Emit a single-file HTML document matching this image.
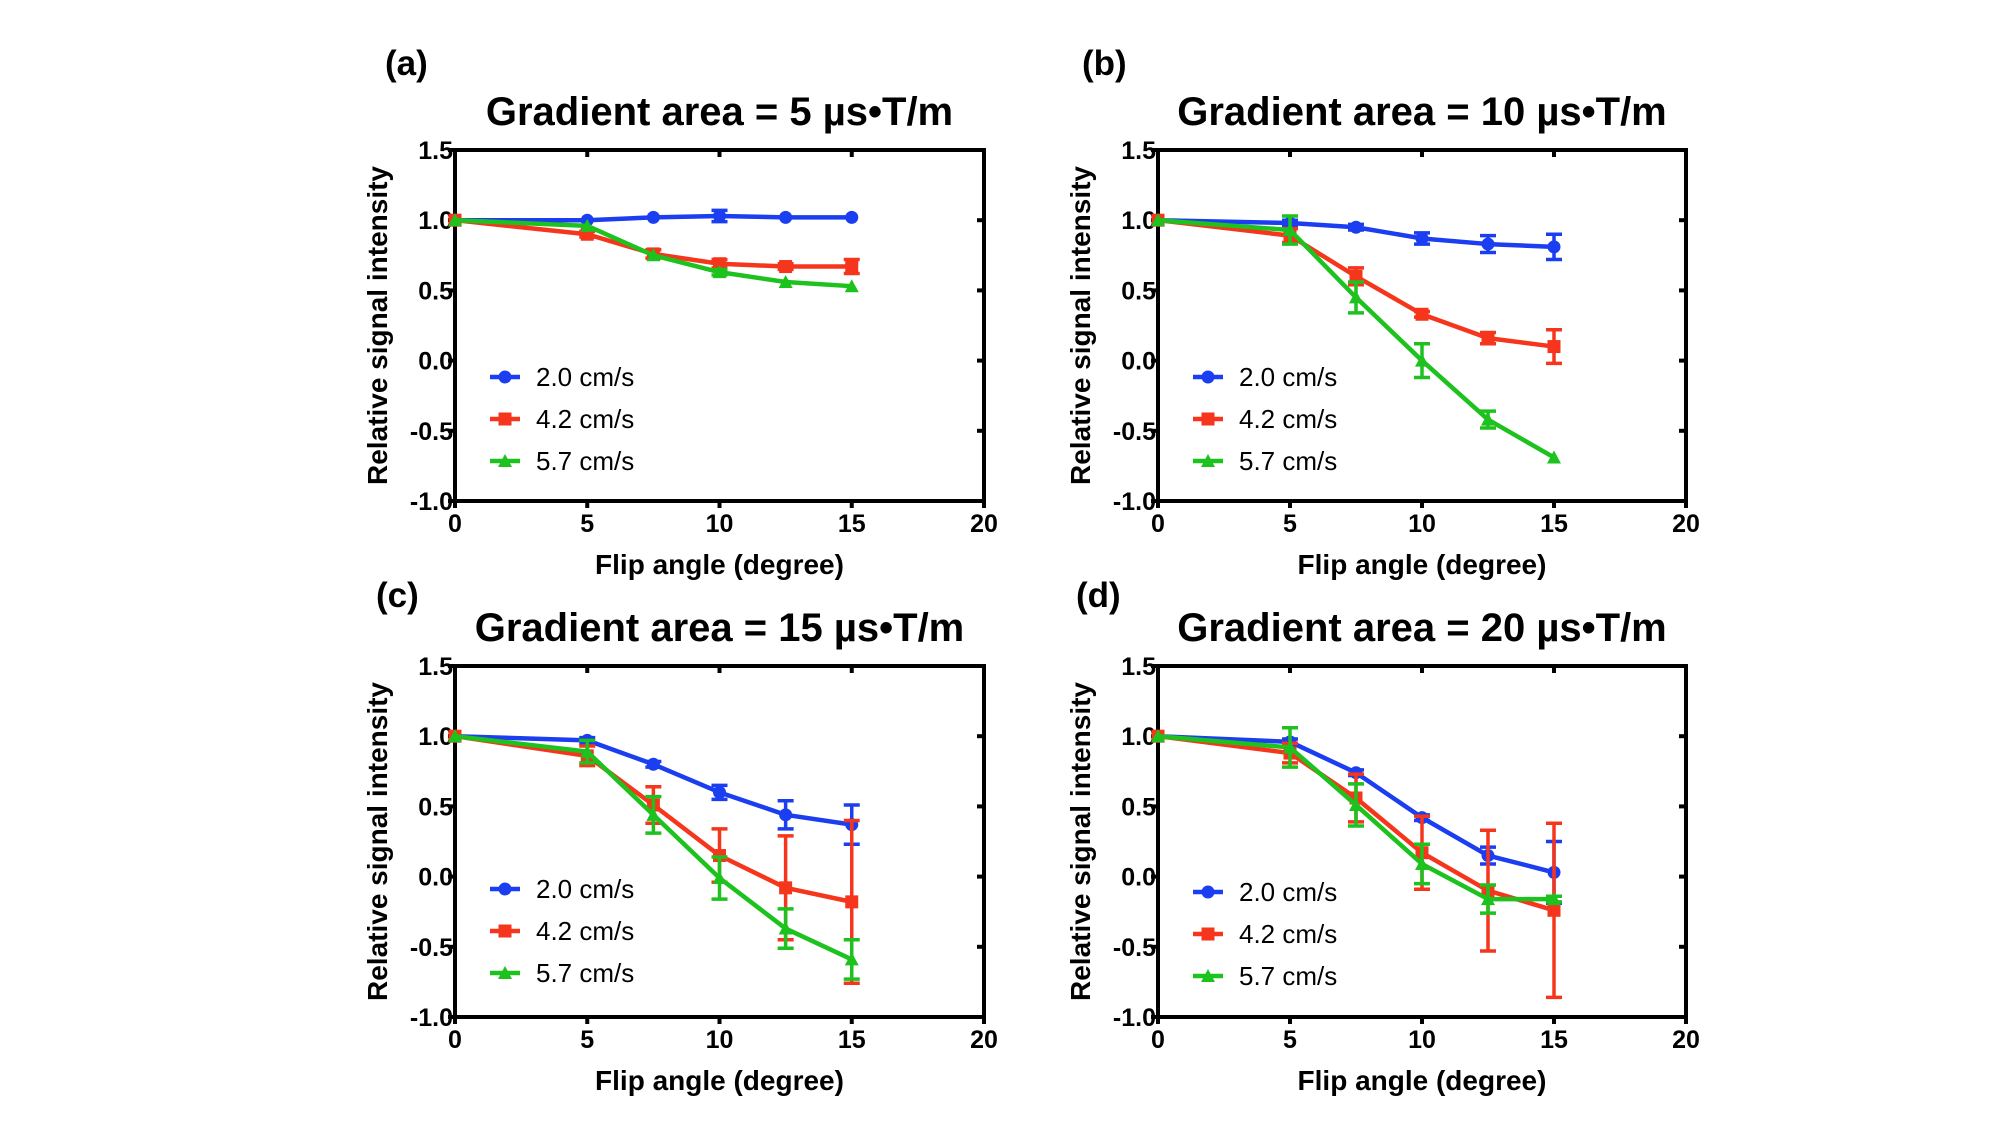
<!DOCTYPE html>
<html><head><meta charset="utf-8"><style>
html,body{margin:0;padding:0;background:#fff}
svg{display:block;font-family:"Liberation Sans",Arial,sans-serif}
</style></head><body>
<svg id="fig" width="2000" height="1125" viewBox="0 0 2000 1125" xmlns="http://www.w3.org/2000/svg"></svg>
<script>
const xVals=[0,5,7.5,10,12.5,15];
const xTicks=[0,5,10,15,20];
const yTicks=[-1.0,-0.5,0.0,0.5,1.0,1.5];
const yTickLabels=["-1.0","-0.5","0.0","0.5","1.0","1.5"];
const seriesNames=["2.0 cm/s","4.2 cm/s","5.7 cm/s"];
const panelLetters=["(a)","(b)","(c)","(d)"];
const panelTitles=["Gradient area = 5 µs•T/m","Gradient area = 10 µs•T/m","Gradient area = 15 µs•T/m","Gradient area = 20 µs•T/m"];
const aBlue=[1,1.0,1.02,1.03,1.02,1.02], aBlueErr=[0,0.01,0.01,0.04,0.01,0.01];
const aRed=[1,0.9,0.76,0.69,0.67,0.67], aRedErr=[0,0.02,0.03,0.03,0.02,0.05];
const aGreen=[1,0.96,0.75,0.63,0.56,0.53], aGreenErr=[0,0.01,0.01,0.02,0.01,0.01];
const bBlue=[1,0.98,0.95,0.87,0.83,0.81], bBlueErr=[0,0.02,0.02,0.04,0.06,0.09];
const bRed=[1,0.89,0.60,0.33,0.16,0.10], bRedErr=[0,0.05,0.06,0.02,0.04,0.12];
const bGreen=[1,0.93,0.45,0.0,-0.42,-0.69], bGreenErr=[0,0.1,0.11,0.12,0.06,0.01];
const cBlue=[1,0.97,0.80,0.60,0.44,0.37], cBlueErr=[0,0.02,0.02,0.05,0.1,0.14];
const cRed=[1,0.86,0.51,0.15,-0.08,-0.18], cRedErr=[0,0.07,0.13,0.19,0.37,0.58];
const cGreen=[1,0.89,0.44,-0.01,-0.37,-0.59], cGreenErr=[0,0.08,0.13,0.15,0.14,0.14];
const dBlue=[1,0.96,0.74,0.42,0.15,0.03], dBlueErr=[0,0.02,0.02,0.02,0.06,0.22];
const dRed=[1,0.88,0.56,0.17,-0.1,-0.24], dRedErr=[0,0.07,0.17,0.26,0.43,0.62];
const dGreen=[1,0.92,0.51,0.09,-0.16,-0.16], dGreenErr=[0,0.14,0.15,0.14,0.1,0.02];

const panelData=[[aBlue,aRed,aGreen],[bBlue,bRed,bGreen],[cBlue,cRed,cGreen],[dBlue,dRed,dGreen]];
const panelErr=[[aBlueErr,aRedErr,aGreenErr],[bBlueErr,bRedErr,bGreenErr],[cBlueErr,cRedErr,cGreenErr],[dBlueErr,dRedErr,dGreenErr]];
const colors=["#1a3ef0","#f5361c","#1ec21e"];
const NS="http://www.w3.org/2000/svg";
const svg=document.getElementById('fig');
function mk(tag,attrs,parent){const e=document.createElementNS(NS,tag);for(const k in attrs)e.setAttribute(k,attrs[k]);(parent||svg).appendChild(e);return e;}
const layouts=[{x0:455,x1:984,y0:150,y1:501},{x0:1158,x1:1686,y0:150,y1:501},{x0:455,x1:984,y0:666,y1:1017},{x0:1158,x1:1686,y0:666,y1:1017}];
const letterPos=[[385,62],[1082,62],[376,594],[1076,594]];
layouts.forEach((L,p)=>{
  const g=mk('g',{});
  
  
  const sx=v=>L.x0+(v-0)/(20-0)*(L.x1-L.x0);
  const sy=v=>L.y1-(v+1)/(2.5)*(L.y1-L.y0);
  const cx=(L.x0+L.x1)/2;
  let t=mk('text',{x:letterPos[p][0],y:letterPos[p][1]+13,'font-size':35,'font-weight':'bold'},g);t.textContent=panelLetters[p];
  
  t=mk('text',{x:cx,y:L.y0-25,'font-size':40,'font-weight':'bold','text-anchor':'middle'},g);t.textContent=panelTitles[p];
  
  const fr=mk('rect',{x:L.x0,y:L.y0,width:L.x1-L.x0,height:L.y1-L.y0,fill:'none',stroke:'#000','stroke-width':4},g);
  
  yTicks.forEach((v,i)=>{
    const y=sy(v);
    mk('line',{x1:L.x0-7,x2:L.x0,y1:y,y2:y,stroke:'#000','stroke-width':4},g);
    mk('line',{x1:L.x1-7,x2:L.x1,y1:y,y2:y,stroke:'#000','stroke-width':4},g);
    const tl=mk('text',{x:L.x0-2,y:y+9,'font-size':25,'font-weight':'bold','text-anchor':'end'},g);tl.textContent=yTickLabels[i];
    
  });
  xTicks.forEach(v=>{
    const x=sx(v);
    mk('line',{x1:x,x2:x,y1:L.y1,y2:L.y1+7,stroke:'#000','stroke-width':4},g);
    mk('line',{x1:x,x2:x,y1:L.y0,y2:L.y0+7,stroke:'#000','stroke-width':4},g);
    const tl=mk('text',{x:x,y:L.y1+31,'font-size':25,'font-weight':'bold','text-anchor':'middle'},g);tl.textContent=String(v);
    
  });
  t=mk('text',{x:cx,y:L.y1+73,'font-size':28,'font-weight':'bold','text-anchor':'middle'},g);t.textContent='Flip angle (degree)';
  
  const ty=(L.y0+L.y1)/2, tx=L.x0-68;
  t=mk('text',{x:tx,y:ty,'font-size':28,'font-weight':'bold','text-anchor':'middle',transform:`rotate(-90 ${tx} ${ty})`},g);t.textContent='Relative signal intensity';
  
  panelData[p].forEach((vals,s)=>{
    const sg=mk('g',{},g);
    
    
    const errs=panelErr[p][s];
    vals.forEach((v,i)=>{
      const e=errs[i]; if(e>0.015){
        const x=sx(xVals[i]);
        const eb=mk('path',{d:`M${x},${sy(v-e)}V${sy(v+e)}M${x-8},${sy(v-e)}h16M${x-8},${sy(v+e)}h16`,stroke:colors[s],'stroke-width':3.5,fill:'none'},sg);
        
      }
    });
    const pts=vals.map((v,i)=>sx(xVals[i])+','+sy(v)).join(' ');
    const pl=mk('polyline',{points:pts,fill:'none',stroke:colors[s],'stroke-width':4.5,'stroke-linejoin':'round'},sg);
    
    vals.forEach((v,i)=>{
      const x=sx(xVals[i]),y=sy(v);let m;
      if(s===0)m=mk('circle',{cx:x,cy:y,r:6.5,fill:colors[s]},sg);
      else if(s===1)m=mk('rect',{x:x-6.5,y:y-6.5,width:13,height:13,fill:colors[s]},sg);
      else m=mk('polygon',{points:`${x},${y-7} ${x-7},${y+6} ${x+7},${y+6}`,fill:colors[s]},sg);
      
    });
  });
  const lg=mk('g',{},g);
  
  const ly0=(p<2?377:889)+(p===3?3:0);
  seriesNames.forEach((n,s)=>{
    const y=ly0+s*42, lx=L.x0+35;
    const e=mk('g',{},lg);
    
    mk('line',{x1:lx,x2:lx+30,y1:y,y2:y,stroke:colors[s],'stroke-width':4.5},e);
    const x=lx+15;
    if(s===0)mk('circle',{cx:x,cy:y,r:6.5,fill:colors[s]},e);
    else if(s===1)mk('rect',{x:x-6.5,y:y-6.5,width:13,height:13,fill:colors[s]},e);
    else mk('polygon',{points:`${x},${y-7} ${x-7},${y+6} ${x+7},${y+6}`,fill:colors[s]},e);
    const tt=mk('text',{x:lx+46,y:y+9,'font-size':26},e);tt.textContent=n;
  });
});
</script>
</body></html>
